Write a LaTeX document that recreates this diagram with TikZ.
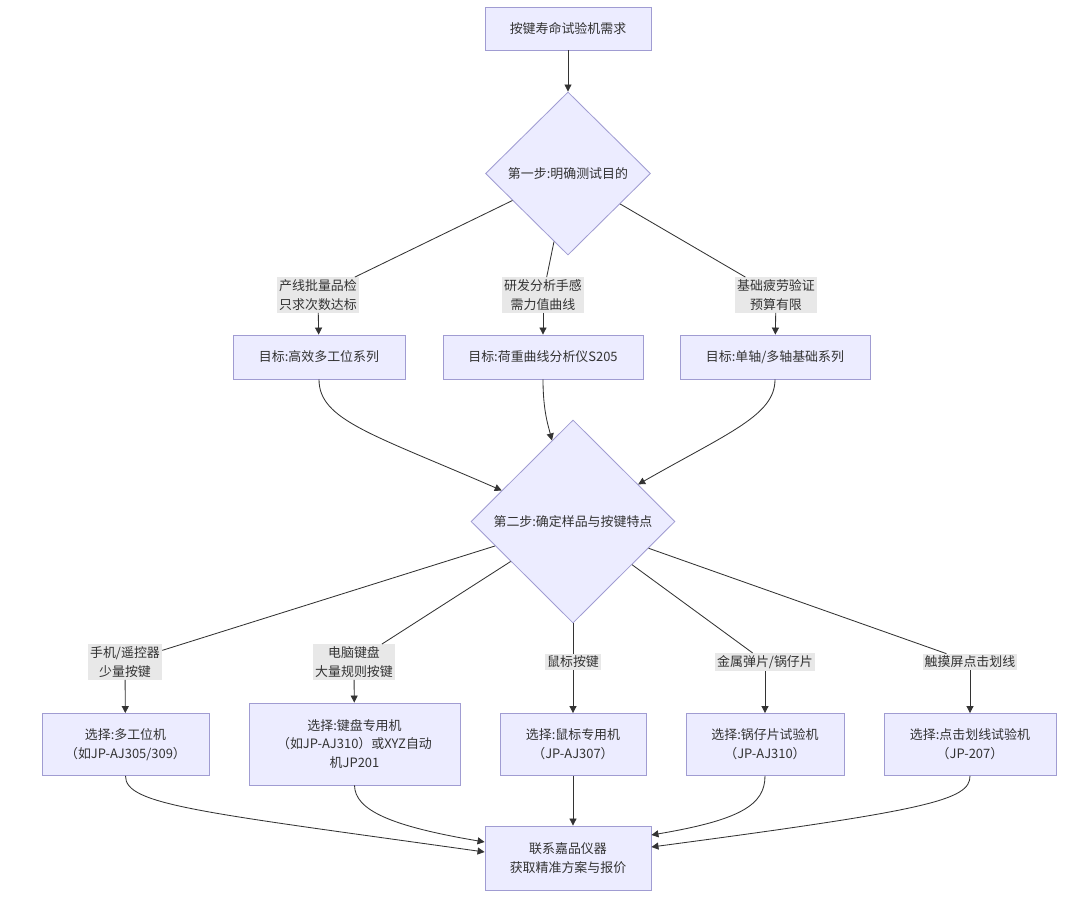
\documentclass[tikz,border=0pt]{standalone}
\usepackage{fontspec}
\setmainfont{Noto Sans CJK SC}
\usepackage{tikz}
\usetikzlibrary{arrows.meta,calc,shapes.geometric}
\definecolor{boxfill}{HTML}{ECECFF}
\definecolor{boxline}{HTML}{A09CD2}
\definecolor{labfill}{HTML}{E8E8E8}
\definecolor{ink}{HTML}{333333}

\begin{document}
\begin{tikzpicture}[x=0.025cm,y=-0.025cm,
		every node/.style={font=\fontsize{9.2pt}{13.5pt}\selectfont,text=ink},
		box/.style={draw=boxline,fill=boxfill,line width=0.6pt,align=center,inner sep=0pt,minimum height=1.1cm},
		choice/.style={box,minimum height=1.55cm},
		decide/.style={diamond,draw=boxline,fill=boxfill,line width=0.6pt,inner sep=0pt,aspect=1},
		lab/.style={fill=labfill,align=center,inner sep=1.5pt},
		link/.style={draw=ink,line width=0.6pt},
		arr/.style={link,-{Triangle[length=5pt,width=5pt]}}]
		\useasboundingbox (0,0) rectangle (1080,896);
		% step one
		\node[box,minimum width=4.15cm,minimum height=1.075cm] (need) at (568,28.5) {按键寿命试验机需求};
		\node[decide,minimum width=4.125cm,minimum height=4.075cm] (stepone) at (568,173.5) {第一步:明确测试目的};
		\node[lab] (qc) at (318,295) {产线批量品检\\只求次数达标};
		\node[lab] (rd) at (543,295) {研发分析手感\\需力值曲线};
		\node[lab] (basic) at (776,295) {基础疲劳验证\\预算有限};
		\node[box,minimum width=4.3cm] (multi) at (319,357) {目标:高效多工位系列};
		\node[box,minimum width=5cm] (curve) at (543,357) {目标:荷重曲线分析仪S205};
		\node[box,minimum width=4.75cm] (single) at (775,357) {目标:单轴/多轴基础系列};
		% step two
		\node[decide,minimum width=5.1cm,minimum height=5.075cm] (steptwo) at (573,521.5) {第二步:确定样品与按键特点};
		\node[lab] (phone) at (125,662) {手机/遥控器\\少量按键};
		\node[lab] (kbd) at (354,662) {电脑键盘\\大量规则按键};
		\node[lab] (mouse) at (573,662) {鼠标按键};
		\node[lab] (dome) at (765,662) {金属弹片/锅仔片};
		\node[lab] (touch) at (970,662) {触摸屏点击划线};
		\node[choice,minimum width=4.175cm] (selmulti) at (125.5,744.5) {选择:多工位机\\（如JP-AJ305/309）};
		\node[choice,minimum width=5.275cm,minimum height=2.05cm] (selkbd) at (354.5,744) {选择:键盘专用机\\（如JP-AJ310）或XYZ自动\\机JP201};
		\node[choice,minimum width=3.65cm] (selmouse) at (573,744.5) {选择:鼠标专用机\\（JP-AJ307）};
		\node[choice,minimum width=3.95cm] (seldome) at (765,744.5) {选择:锅仔片试验机\\（JP-AJ310）};
		\node[choice,minimum width=4.3cm] (seltouch) at (970,744.5) {选择:点击划线试验机\\（JP-207）};
		\node[box,minimum width=4.15cm,minimum height=1.6cm] (contact) at (568,858) {联系嘉品仪器\\获取精准方案与报价};
		% connectors
		\draw[arr] (need) -- (stepone);
		\draw[link] (stepone) -- (qc);
		\draw[link] (stepone) -- (rd);
		\draw[link] (stepone) -- (basic);
		\draw[arr] (qc) -- (multi);
		\draw[arr] (rd) -- (curve);
		\draw[arr] (basic) -- (single);
		\draw[arr] (multi.south) .. controls (319,420) and (372,434) .. (steptwo);
		\draw[arr] (curve.south) .. controls (543,410) and (548,425) .. (steptwo);
		\draw[arr] (single.south) .. controls (775,415) and (730,432) .. (steptwo);
		\draw[link] (steptwo) -- (phone);
		\draw[link] (steptwo) -- (kbd);
		\draw[link] (steptwo) -- (mouse);
		\draw[link] (steptwo) -- (dome);
		\draw[link] (steptwo) -- (touch);
		\draw[arr] (phone) -- (selmulti);
		\draw[arr] (kbd) -- (selkbd);
		\draw[arr] (mouse) -- (selmouse);
		\draw[arr] (dome) -- (seldome);
		\draw[arr] (touch) -- (seltouch);
		\draw[arr] (selmulti.south) .. controls (125,805) and (200,812) .. ([yshift=0.15cm]contact.west);
		\draw[arr] (selkbd.south) .. controls (355,810) and (390,826) .. ([yshift=0.4cm]contact.west);
		\draw[arr] (selmouse.south) -- (selmouse.south |- contact.north);
		\draw[arr] (seldome.south) .. controls (765,805) and (740,820) .. ([yshift=0.575cm]contact.east);
		\draw[arr] (seltouch.south) .. controls (970,800) and (930,810) .. ([yshift=0.275cm]contact.east);
\end{tikzpicture}
\end{document}
